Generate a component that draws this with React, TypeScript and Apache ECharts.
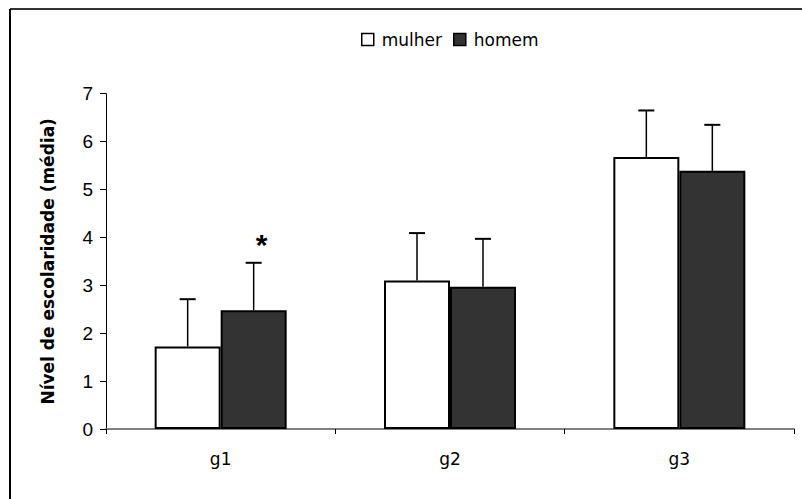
import React, { useEffect, useRef } from "react";
import * as echarts from "echarts";

const categories = ["g1", "g2", "g3"];
const mulherMeans = [1.72, 3.1, 5.68];
const mulherErrTop = [2.71, 4.09, 6.65];
const homemMeans = [2.48, 2.97, 5.39];
const homemErrTop = [3.47, 3.97, 6.35];
const homemMarks = ["*", "", ""];
const yTicks = [0, 1, 2, 3, 4, 5, 6, 7];

const BAR_W = 66;

function errorSeries(name: string, means: number[], tops: number[], marks: string[], offset: number) {
  return {
    type: "custom",
    name,
    coordinateSystem: "cartesian2d",
    z: 5,
    silent: true,
    data: means.map((m, i) => [i, tops[i], m, marks[i]]),
    renderItem: (params: any, api: any) => {
      const idx = api.value(0);
      const top = api.coord([idx, api.value(1)]);
      const base = api.coord([idx, api.value(2)]);
      const x = top[0] + offset;
      const mark = marks[params.dataIndex];
      const children: any[] = [
        { type: "line", shape: { x1: x, y1: base[1], x2: x, y2: top[1] }, style: { stroke: "#000", lineWidth: 1.5 } },
        { type: "line", shape: { x1: x - 8, y1: top[1], x2: x + 8, y2: top[1] }, style: { stroke: "#000", lineWidth: 2 } },
      ];
      if (mark) {
        children.push({
          type: "text",
          style: {
            text: mark,
            x: x + 8,
            y: top[1] - 18,
            align: "center",
            verticalAlign: "middle",
            font: "bold 30px 'Liberation Sans'",
            fill: "#000",
          },
        });
      }
      return { type: "group", children };
    },
  };
}

export default function App() {
  const ref = useRef<HTMLDivElement>(null);
  useEffect(() => {
    const chart = echarts.init(ref.current!, null, { renderer: "svg" });
    chart.setOption({
      animation: false,
      backgroundColor: "#fff",
      graphic: [
        { type: "line", shape: { x1: 10, y1: 9, x2: 802, y2: 9 }, style: { stroke: "#333", lineWidth: 2 } },
        { type: "line", shape: { x1: 10, y1: 9, x2: 10, y2: 499 }, style: { stroke: "#000", lineWidth: 2 } },
      ],
      legend: {
        data: ["mulher", "homem"],
        left: 356,
        top: 26,
        itemWidth: 12,
        itemHeight: 12,
        itemGap: 11,
        icon: "rect",
        textStyle: { fontFamily: "DejaVu Sans", fontSize: 17, color: "#000", padding: [0, 0, 0, 3] },
        itemStyle: { borderColor: "#000", borderWidth: 1.5 },
      },
      grid: { left: 106, right: 8, top: 93.7, bottom: 70, containLabel: false },
      xAxis: {
        type: "category",
        data: categories,
        axisLine: { lineStyle: { color: "#808080", width: 2 } },
        axisTick: { show: true, alignWithLabel: false, length: 5, lineStyle: { color: "#000", width: 1 } },
        axisLabel: { fontFamily: "DejaVu Sans", fontSize: 17, color: "#000", margin: 21 },
        splitLine: { show: false },
      },
      yAxis: {
        type: "value",
        min: yTicks[0],
        max: yTicks[yTicks.length - 1],
        interval: 1,
        name: "Nível de escolaridade (média)",
        nameLocation: "middle",
        nameRotate: 90,
        nameGap: 50,
        nameTextStyle: { fontFamily: "DejaVu Sans", fontSize: 17, fontWeight: "bold", color: "#000" },
        axisLine: { show: true, lineStyle: { color: "#000", width: 1 } },
        axisTick: { show: true, length: 6, lineStyle: { color: "#000" } },
        axisLabel: { fontFamily: "Liberation Sans", fontSize: 19, color: "#000", margin: 13 },
        splitLine: { show: false },
      },
      series: [
        {
          type: "bar",
          name: "mulher",
          data: mulherMeans,
          barWidth: BAR_W,
          barGap: "0%",
          itemStyle: { color: "#fff", borderColor: "#000", borderWidth: 2 },
        },
        {
          type: "bar",
          name: "homem",
          data: homemMeans,
          barWidth: BAR_W,
          barGap: "0%",
          itemStyle: { color: "#333333", borderColor: "#000", borderWidth: 2 },
        },
        errorSeries("err-mulher", mulherMeans, mulherErrTop, ["", "", ""], -BAR_W / 2),
        errorSeries("err-homem", homemMeans, homemErrTop, homemMarks, BAR_W / 2),
      ],
    });
    return () => chart.dispose();
  }, []);
  return <div ref={ref} style={{ position: "fixed", left: 0, top: 0, width: 802, height: 499 }} />;
}
